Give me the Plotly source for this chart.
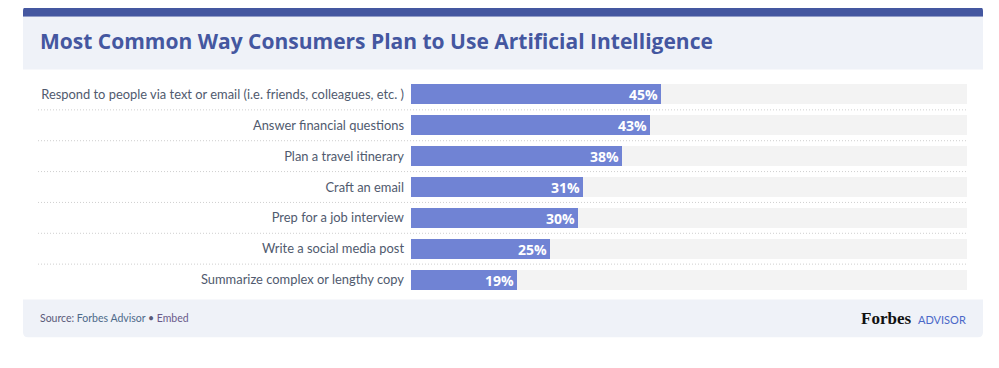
import plotly.graph_objects as go

categories = [
    "Respond to people via text or email (i.e. friends, colleagues, etc. )",
    "Answer financial questions",
    "Plan a travel itinerary",
    "Craft an email",
    "Prep for a job interview",
    "Write a social media post",
    "Summarize complex or lengthy copy",
]
values = [45, 43, 38, 31, 30, 25, 19]
value_labels = ["45%", "43%", "38%", "31%", "30%", "25%", "19%"]
track_max = [100] * len(categories)

title = "Most Common Way Consumers Plan to Use Artificial Intelligence"

# page body margin offset (browser default 8px)
O = 8
W, H = 999 - O, 368 - O
# plot area in screen pixels
PL, PR, PT, PB = 411, 967, 78.5, 295.5

def px(x):
    return (x - PL) / (PR - PL)

def py(y):
    return (PB - y) / (PB - PT)

fig = go.Figure()
fig.add_trace(go.Bar(
    y=categories, x=track_max, orientation="h",
    marker=dict(color="#f3f3f3", line=dict(width=0)),
    width=0.645, hoverinfo="skip", showlegend=False,
))
fig.add_trace(go.Bar(
    y=categories, x=values, orientation="h",
    marker=dict(color="#7083d4", line=dict(width=0)),
    width=0.645, text=value_labels, textposition="inside",
    insidetextanchor="end", textangle=0,
    textfont=dict(family="Open Sans", size=14, color="white", weight="bold"),
    cliponaxis=False, showlegend=False,
))

shapes = []
shapes.append(dict(type="path", xref="paper", yref="paper",
                   path=f"M {px(23)},{py(16)} L {px(23)},{py(10)} Q {px(23)},{py(6)} {px(27)},{py(6)} "
                        f"L {px(979)},{py(6)} Q {px(983)},{py(6)} {px(983)},{py(10)} L {px(983)},{py(16)} Z",
                   fillcolor="#4457a0", line=dict(width=0), layer="below"))
shapes.append(dict(type="rect", xref="paper", yref="paper",
                   x0=px(23), x1=px(983), y0=py(69), y1=py(16),
                   fillcolor="#eff2f8", line=dict(width=0), layer="below"))
r = 5
shapes.append(dict(type="path", xref="paper", yref="paper",
                   path=f"M {px(23)},{py(300)} L {px(983)},{py(300)} L {px(983)},{py(338-r)} "
                        f"Q {px(983)},{py(338)} {px(983-r)},{py(338)} L {px(23+r)},{py(338)} "
                        f"Q {px(23)},{py(338)} {px(23)},{py(338-r)} Z",
                   fillcolor="#eff2f8", line=dict(width=0), layer="below"))
for i in range(len(categories) - 1):
    shapes.append(dict(type="line", xref="paper", yref="y",
                       x0=px(38), x1=px(967), y0=i + 0.5, y1=i + 0.5,
                       line=dict(color="#cfcfcf", width=1, dash="1px,2px"), layer="below"))

annotations = [
    dict(text=title, xref="paper", yref="paper", x=px(38), y=py(40),
         xanchor="left", yanchor="middle", showarrow=False,
         font=dict(family="Open Sans", size=21, color="#4457a0", weight="bold")),
    dict(text="<span style='color:#5a5a78'>Source: </span><span style='color:#4d6a8a'>Forbes Advisor</span>"
              "<span style='color:#5a5a78'> • </span><span style='color:#6a5a8a'>Embed</span>",
         xref="paper", yref="paper", x=px(38), y=py(319),
         xanchor="left", yanchor="middle", showarrow=False,
         font=dict(family="Lato", size=10.5, color="#5a5a78")),
    dict(text="<b>Forbes</b>", xref="paper", yref="paper", x=px(913), y=py(319),
         xanchor="right", yanchor="middle", showarrow=False,
         font=dict(family="Liberation Serif", size=17, color="#111111")),
    dict(text="ADVISOR", xref="paper", yref="paper", x=px(968), y=py(320),
         xanchor="right", yanchor="middle", showarrow=False,
         font=dict(family="Lato", size=11, color="#4a68c8")),
]

fig.update_layout(
    width=W, height=H,
    margin=dict(l=PL - O, r=999 - PR, t=PT - O, b=368 - PB, pad=0),
    paper_bgcolor="white", plot_bgcolor="rgba(0,0,0,0)",
    barmode="overlay", bargap=0,
    uniformtext=dict(minsize=14, mode="show"),
    shapes=shapes, annotations=annotations,
    xaxis=dict(range=[0, 100], visible=False, fixedrange=True),
    yaxis=dict(autorange="reversed", showgrid=False, zeroline=False, ticks="",
               ticklabelstandoff=6,
               tickfont=dict(family="Lato", size=12.9, color="#505a6e"),
               fixedrange=True),
    font=dict(family="Lato"),
)

fig.write_html("out.html", config={"displayModeBar": False})
